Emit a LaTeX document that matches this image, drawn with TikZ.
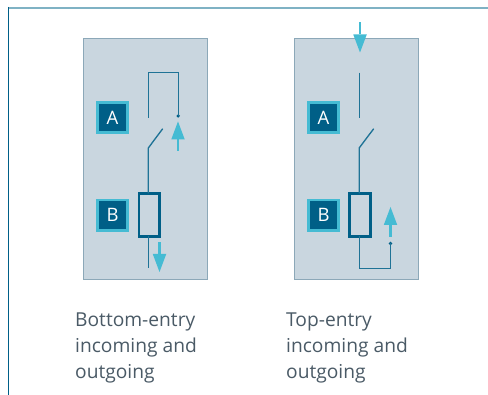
\documentclass[tikz,border=0pt]{standalone}
\usepackage{fontspec}
\setmainfont{Open Sans}
\usetikzlibrary{arrows.meta}
\definecolor{panelfill}{HTML}{C9D6DF}
\definecolor{paneledge}{HTML}{8CA8B8}
\definecolor{wire}{HTML}{1F7396}
\definecolor{darkblue}{HTML}{005F87}
\definecolor{cyanish}{HTML}{45BBD3}
\definecolor{topline}{HTML}{7FB2C4}
\definecolor{txt}{HTML}{4A5A66}
\tikzset{
  panel/.style={draw=paneledge,fill=panelfill,line width=1.2pt,minimum width=124pt,minimum height=241pt,inner sep=0pt,outer sep=0pt},
  tag/.style={draw=cyanish,fill=darkblue,line width=2.6pt,minimum size=30.5pt,inner sep=0pt,text=white,font=\fontsize{18.5}{18.5}\selectfont},
  fuse/.style={draw=darkblue,line width=2.6pt,minimum width=20.5pt,minimum height=43pt,inner sep=0pt,outer sep=0pt},
  wireline/.style={draw=wire,line width=1.35pt},
  flow/.style={draw=cyanish,line width=2.8pt,-{Triangle[length=18pt,width=13.5pt,line width=0pt]}},
  caption/.style={anchor=base west,inner sep=0pt,text=txt,font=\fontsize{19.2}{19.2}\selectfont},
  dotend/.style={circle,fill=darkblue,minimum size=3.6pt,inner sep=0pt}
}
\begin{document}
\begin{tikzpicture}[x=1pt,y=-1pt]
\useasboundingbox (0,0) rectangle (488,395);
\draw[topline,line width=2pt] (8,8) -- (488,8);
\draw[darkblue,line width=1.6pt] (8.6,7) -- (8.6,395);
% left panel
\node[panel] (pl) at (145.4,158.8) {};
\node[tag] (al) at (112.5,117.5) {A};
\node[tag] (bl) at (112.5,215.3) {B};
\node[fuse] (fl) at (149.2,215) {};
\coordinate (l1) at (148.3,117.7);
\coordinate (l2) at (148.3,72.3);
\coordinate (l3) at (178.2,72.3);
\node[dotend] (ld) at (178.2,116) {};
\coordinate (ls) at (148.3,148);
\coordinate (lt) at (162.7,128.7);
\coordinate (lb) at (148.5,268);
\draw[wireline] (l1) -- (l2) -- (l3) -- (ld.center);
\draw[wireline] (lt) -- (ls) -- (ls |- fl.north);
\draw[wireline] (lb |- fl.south) -- (lb);
\coordinate (la1) at (178,151);
\coordinate (la2) at (178,121.5);
\draw[flow] (la1) -- (la2);
\coordinate (la3) at (159.5,242.5);
\coordinate (la4) at (159.5,272);
\draw[flow] (la3) -- (la4);
% right panel
\node[panel] (pr) at (356.4,158.8) {};
\node[tag] (ar) at (323.5,117.5) {A};
\node[tag] (br) at (323.5,215.3) {B};
\node[fuse] (fr) at (360,215) {};
\coordinate (r1) at (359.2,72.7);
\coordinate (r2) at (359.2,117.7);
\coordinate (rs) at (359.2,148);
\coordinate (rt) at (373.7,128.7);
\coordinate (rb) at (359.4,268.3);
\coordinate (rc) at (390.5,268.3);
\node[dotend] (rd) at (390.5,243.5) {};
\draw[wireline] (r1) -- (r2);
\draw[wireline] (rt) -- (rs) -- (rs |- fr.north);
\draw[wireline] (rb |- fr.south) -- (rb) -- (rc) -- (rd.center);
\coordinate (ra1) at (360,22.5);
\coordinate (ra2) at (360,52.5);
\draw[flow] (ra1) -- (ra2);
\coordinate (ra3) at (390.5,237);
\coordinate (ra4) at (390.5,207);
\draw[flow] (ra3) -- (ra4);
% captions
\node[caption] (c1) at (75,326.8) {Bottom-entry};
\node[caption] (c2) at (75,352.8) {incoming and};
\node[caption] (c3) at (75,378.8) {outgoing};
\node[caption] (c4) at (286,326.8) {Top-entry};
\node[caption] (c5) at (286,352.8) {incoming and};
\node[caption] (c6) at (286,378.8) {outgoing};
\end{tikzpicture}
\end{document}
